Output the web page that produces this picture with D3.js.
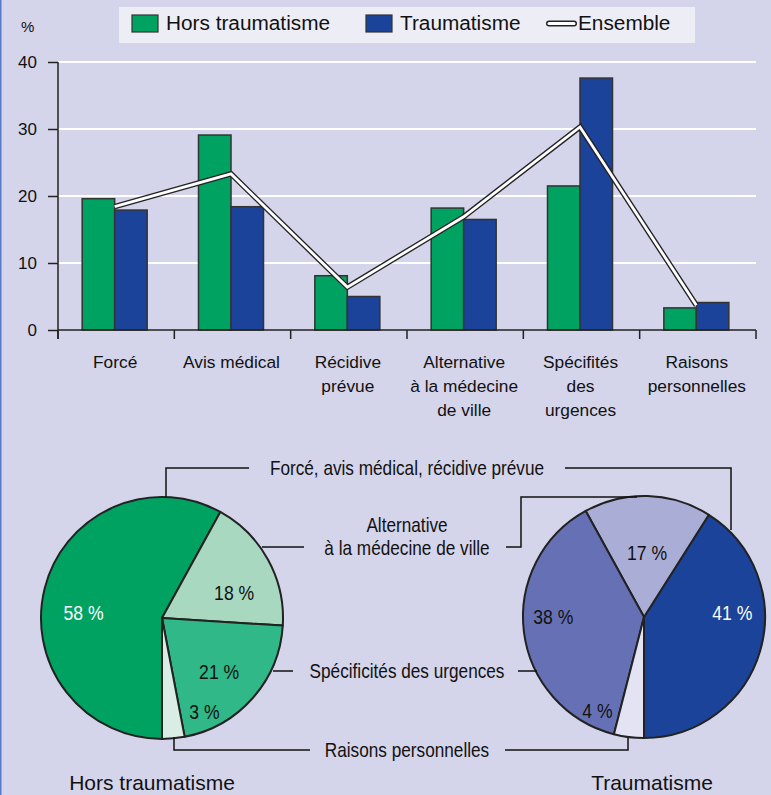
<!DOCTYPE html>
<html>
<head>
<meta charset="utf-8">
<script src="https://cdn.jsdelivr.net/npm/d3@7"></script>
<style>
  body { margin: 0; background: #d4d4ea; }
  svg { display: block; }
  text { font-family: "Liberation Sans", Arial, sans-serif; fill: #111; }
</style>
</head>
<body>
<svg id="chart" width="771" height="795"></svg>
<script>
// bar chart data (%)
var categories = ["Forcé", "Avis médical", "Récidive prévue", "Alternative à la médecine de ville", "Spécifités des urgences", "Raisons personnelles"];
var tickLines = [["Forcé"], ["Avis médical"], ["Récidive", "prévue"], ["Alternative", "à la médecine", "de ville"], ["Spécifités", "des", "urgences"], ["Raisons", "personnelles"]];
var horsValues = [19.6, 29.1, 8.1, 18.2, 21.5, 3.3];
var traumaValues = [17.9, 18.4, 5.0, 16.5, 37.6, 4.1];
var ensembleValues = [18.4, 23.3, 6.4, 16.9, 30.3, 3.7];
var yTicks = [0, 10, 20, 30, 40];

// pie data (%)
var pieCategories = ["Forcé, avis médical, récidive prévue", "Alternative à la médecine de ville", "Spécificités des urgences", "Raisons personnelles"];
var horsPie = [58, 18, 21, 3];
var traumaPie = [41, 17, 38, 4];

var GREEN = "#00a261", BLUE = "#1b4399";

var svg = d3.select("#chart");
var width = +svg.attr("width"),
    height = +svg.attr("height");

svg.append("rect").attr("width", width).attr("height", height).attr("fill", "#d4d4ea");
svg.append("rect").attr("x", 0).attr("width", 1.5).attr("height", height).attr("fill", "#5b79c9");

// text helper: Liberation Sans stretched/squeezed horizontally to get the original face's widths
function label(parent, px, py, lines, size, sx, anchor, lh, color) {
  var t = parent.append("g").attr("transform", "translate(" + px + "," + py + ")")
    .append("text")
      .attr("transform", "scale(" + sx + ",1)")
      .attr("text-anchor", anchor || "middle")
      .style("font-size", size + "px")
      .style("fill", color || "#111");
  lines.forEach(function(l, j) {
    t.append("tspan").attr("x", 0).attr("y", j * (lh || 0)).text(l);
  });
  return t;
}

// scales
var x = d3.scaleBand().domain(categories).range([58, 756]);
var sub = d3.scaleBand().domain(["hors", "trauma"]).range([0, 65]);
var y = d3.scaleLinear().domain([0, 40]).range([330, 62]);

// grid
svg.append("g").selectAll("line")
  .data(yTicks.filter(d => d > 0))
  .enter().append("line")
    .attr("x1", 58).attr("x2", 756)
    .attr("y1", d => y(d)).attr("y2", d => y(d))
    .attr("stroke", "#fff").attr("stroke-width", 2);

// bars
var barG = svg.append("g");
categories.forEach(function(c, i) {
  var x0 = x(c) + (x.bandwidth() - 65) / 2 - 1.5;
  [["hors", horsValues[i], GREEN], ["trauma", traumaValues[i], BLUE]].forEach(function(b) {
    barG.append("rect")
      .attr("x", x0 + sub(b[0]))
      .attr("y", y(b[1]))
      .attr("width", sub.bandwidth())
      .attr("height", y(0) - y(b[1]))
      .attr("fill", b[2])
      .attr("stroke", "#333")
      .attr("stroke-width", 1.5);
  });
});

// axes
var yAxis = svg.append("g").attr("transform", "translate(58,0)")
  .call(d3.axisLeft(y).tickValues(yTicks).tickSize(10).tickPadding(11));
yAxis.select(".domain").attr("d", "M0," + y(40) + "V339").attr("stroke", "#222").attr("stroke-width", 1.5);
yAxis.selectAll(".tick line").attr("stroke", "#222").attr("stroke-width", 1.5);
yAxis.selectAll("text").attr("font-family", null).style("font-size", "17px");

var xAxis = svg.append("g").attr("transform", "translate(0,330)");
xAxis.append("line").attr("x1", 58).attr("x2", 756).attr("stroke", "#222").attr("stroke-width", 1.5);
xAxis.selectAll(".tk")
  .data(categories.map(c => x(c)).concat([756]))
  .enter().append("line")
    .attr("x1", d => d).attr("x2", d => d)
    .attr("y1", 0).attr("y2", 9)
    .attr("stroke", "#222").attr("stroke-width", 1.5);
tickLines.forEach(function(lines, i) {
  label(xAxis, x(categories[i]) + x.bandwidth() / 2 - 1, 38, lines, 16.5, 1.05, "middle", 24);
});

svg.append("text").attr("x", 21).attr("y", 32).style("font-size", "15px").text("%");

// ensemble line
var line = d3.line()
  .x((d, i) => x(categories[i]) + x.bandwidth() / 2 - 1.5)
  .y(d => y(d));
svg.append("path").datum(ensembleValues).attr("d", line)
  .attr("fill", "none").attr("stroke", "#222").attr("stroke-width", 5.5);
svg.append("path").datum(ensembleValues).attr("d", line)
  .attr("fill", "none").attr("stroke", "#fff").attr("stroke-width", 2.8);

// legend
var legend = svg.append("g");
legend.append("rect").attr("x", 119).attr("y", 7).attr("width", 576).attr("height", 36).attr("fill", "#ededf6");
var legendData = [
  {label: "Hors traumatisme", color: GREEN, x: 132, type: "rect"},
  {label: "Traumatisme", color: BLUE, x: 366, type: "rect"},
  {label: "Ensemble", color: "#fff", x: 547, type: "line"}
];
legendData.forEach(function(d) {
  if (d.type === "rect") {
    legend.append("rect").attr("x", d.x).attr("y", 15).attr("width", 26).attr("height", 17)
      .attr("fill", d.color).attr("stroke", "#333").attr("stroke-width", 1.2);
    label(legend, d.x + 34, 30, [d.label], 20, 1.04, "start");
  } else {
    legend.append("line").attr("x1", d.x + 2).attr("x2", d.x + 27).attr("y1", 23.5).attr("y2", 23.5)
      .attr("stroke", "#222").attr("stroke-width", 6).attr("stroke-linecap", "round");
    legend.append("line").attr("x1", d.x + 2).attr("x2", d.x + 27).attr("y1", 23.5).attr("y2", 23.5)
      .attr("stroke", "#fff").attr("stroke-width", 3).attr("stroke-linecap", "round");
    label(legend, d.x + 31, 30, [d.label], 20, 1.04, "start");
  }
});

// pies
var R = 121;
var arc = d3.arc().innerRadius(0).outerRadius(R);

function drawPie(cx, cy, values, colors, textColors, clockwise, spots, title, titleX) {
  var pie = d3.pie().sort(null).value(d => d)
    .startAngle(Math.PI).endAngle(clockwise ? 3 * Math.PI : -Math.PI);
  var arcs = pie(values);
  var g = svg.append("g").attr("transform", "translate(" + cx + "," + cy + ")");
  g.selectAll("path").data(arcs).enter().append("path")
    .attr("d", arc)
    .attr("fill", (d, i) => colors[i])
    .attr("stroke", "#222").attr("stroke-width", 2).attr("stroke-linejoin", "round");
  arcs.forEach(function(d, i) {
    var a = (d.startAngle + d.endAngle) / 2 + spots[i][0] * Math.PI / 180;
    var r = spots[i][1] * R;
    label(g, r * Math.sin(a), -r * Math.cos(a) + 7, [d.data + " %"], 20, 0.88, "middle", 0, textColors[i]);
  });
  svg.append("text").attr("x", titleX).attr("y", 790)
    .attr("text-anchor", "middle").style("font-size", "21px").text(title);
}

var LC = [162, 618], RC = [644, 617];
drawPie(LC[0], LC[1], horsPie, ["#00a261", "#a8d8c0", "#30b888", "#d9ede4"], ["#fff", "#111", "#111", "#111"], true,
  [[-11, 0.65], [10, 0.63], [2, 0.65], [-19, 0.85]], "Hors traumatisme", 152);
drawPie(RC[0], RC[1], traumaPie, ["#1b4399", "#aaadd6", "#6671b5", "#e3e3f3"], ["#fff", "#111", "#111", "#111"], false,
  [[-19, 0.73], [1, 0.53], [7, 0.75], [19, 0.87]], "Traumatisme", 652);

// callouts
var mid = 407;
var callouts = [
  {lines: [pieCategories[0]], y: 468, left: "M166,497V468H249", right: "M565,468H731V530"},
  {lines: ["Alternative", "à la médecine de ville"], y: 525, left: "M262,547H304", right: "M506,547H521V497H637"},
  {lines: [pieCategories[2]], y: 671, left: "M273,671H293", right: "M518,671H537"},
  {lines: [pieCategories[3]], y: 750, left: "M174,737V750H310", right: "M505,750H628V738"}
];
callouts.forEach(function(c) {
  svg.append("path").attr("d", c.left).attr("fill", "none").attr("stroke", "#111").attr("stroke-width", 1.5);
  svg.append("path").attr("d", c.right).attr("fill", "none").attr("stroke", "#111").attr("stroke-width", 1.5);
  label(svg, mid, c.y + 7, c.lines, 20, 0.86, "middle", 23);
});
</script>
</body>
</html>
